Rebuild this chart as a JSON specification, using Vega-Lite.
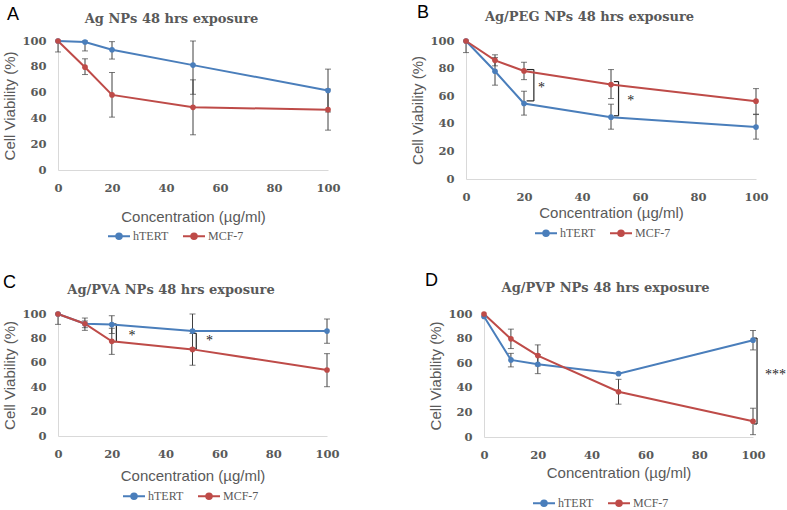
{
  "$schema": "https://vega.github.io/schema/vega-lite/v6.json",
  "background": "white",
  "padding": {"left": 2, "top": 4, "right": 2, "bottom": 0},
  "bounds": "flush",
  "align": "none",
  "spacing": 273,
  "datasets": {
    "pts": [
      {"panel": "A", "series": "hTERT", "conc": 0, "v": 100, "lo": 91.5, "hi": 100},
      {"panel": "A", "series": "hTERT", "conc": 10, "v": 99.2, "lo": 92.3, "hi": 100},
      {"panel": "A", "series": "hTERT", "conc": 20, "v": 93.2, "lo": 86, "hi": 99.5},
      {"panel": "A", "series": "hTERT", "conc": 50, "v": 81.3, "lo": 58.7, "hi": 100},
      {"panel": "A", "series": "hTERT", "conc": 100, "v": 61.6, "lo": 45, "hi": 78.2},
      {"panel": "A", "series": "MCF-7", "conc": 0, "v": 100, "lo": 100, "hi": 100},
      {"panel": "A", "series": "MCF-7", "conc": 10, "v": 79.7, "lo": 74, "hi": 86.2},
      {"panel": "A", "series": "MCF-7", "conc": 20, "v": 58.2, "lo": 41, "hi": 75.6},
      {"panel": "A", "series": "MCF-7", "conc": 50, "v": 48.6, "lo": 27.3, "hi": 69.9},
      {"panel": "A", "series": "MCF-7", "conc": 100, "v": 46.8, "lo": 30.9, "hi": 62.7},
      {"panel": "B", "series": "hTERT", "conc": 0, "v": 100, "lo": 91.6, "hi": 100},
      {"panel": "B", "series": "hTERT", "conc": 10, "v": 78.1, "lo": 68, "hi": 88},
      {"panel": "B", "series": "hTERT", "conc": 20, "v": 54.7, "lo": 46.3, "hi": 63.6},
      {"panel": "B", "series": "hTERT", "conc": 50, "v": 44.8, "lo": 36.1, "hi": 54.2},
      {"panel": "B", "series": "hTERT", "conc": 100, "v": 37.6, "lo": 28.9, "hi": 46.7},
      {"panel": "B", "series": "MCF-7", "conc": 0, "v": 100, "lo": 100, "hi": 100},
      {"panel": "B", "series": "MCF-7", "conc": 10, "v": 86, "lo": 82, "hi": 90},
      {"panel": "B", "series": "MCF-7", "conc": 20, "v": 78.3, "lo": 72, "hi": 84.6},
      {"panel": "B", "series": "MCF-7", "conc": 50, "v": 68.4, "lo": 58.3, "hi": 79.3},
      {"panel": "B", "series": "MCF-7", "conc": 100, "v": 56.4, "lo": 47, "hi": 65.5},
      {"panel": "C", "series": "hTERT", "conc": 0, "v": 100, "lo": 91.5, "hi": 100},
      {"panel": "C", "series": "hTERT", "conc": 10, "v": 92, "lo": 86.6, "hi": 96.7},
      {"panel": "C", "series": "hTERT", "conc": 20, "v": 91.3, "lo": 84, "hi": 98.6},
      {"panel": "C", "series": "hTERT", "conc": 50, "v": 86, "lo": 72, "hi": 100},
      {"panel": "C", "series": "hTERT", "conc": 100, "v": 86, "lo": 76, "hi": 95.9},
      {"panel": "C", "series": "MCF-7", "conc": 0, "v": 100, "lo": 100, "hi": 100},
      {"panel": "C", "series": "MCF-7", "conc": 10, "v": 92, "lo": 88.8, "hi": 94.3},
      {"panel": "C", "series": "MCF-7", "conc": 20, "v": 77.6, "lo": 66.9, "hi": 88.3},
      {"panel": "C", "series": "MCF-7", "conc": 50, "v": 71, "lo": 58, "hi": 84},
      {"panel": "C", "series": "MCF-7", "conc": 100, "v": 54.1, "lo": 40.4, "hi": 67.5},
      {"panel": "D", "series": "hTERT", "conc": 0, "v": 98, "lo": 98, "hi": 98},
      {"panel": "D", "series": "hTERT", "conc": 10, "v": 62.7, "lo": 57, "hi": 68},
      {"panel": "D", "series": "hTERT", "conc": 20, "v": 59.1, "lo": 51.5, "hi": 67},
      {"panel": "D", "series": "hTERT", "conc": 50, "v": 51.5, "lo": 51.5, "hi": 51.5},
      {"panel": "D", "series": "hTERT", "conc": 100, "v": 78.7, "lo": 70.8, "hi": 86.6},
      {"panel": "D", "series": "MCF-7", "conc": 0, "v": 100, "lo": 100, "hi": 100},
      {"panel": "D", "series": "MCF-7", "conc": 10, "v": 79.8, "lo": 71.9, "hi": 87.7},
      {"panel": "D", "series": "MCF-7", "conc": 20, "v": 66.2, "lo": 57.8, "hi": 74.9},
      {"panel": "D", "series": "MCF-7", "conc": 50, "v": 36.8, "lo": 26.7, "hi": 46.9},
      {"panel": "D", "series": "MCF-7", "conc": 100, "v": 12.8, "lo": 1.9, "hi": 23.4}
    ],
    "brk": [
      {"panel": "B", "x": 23.4, "x2": 23.4, "y": 79.3, "y2": 56.6},
      {"panel": "B", "x": 20.9, "x2": 23.4, "y": 79.3, "y2": 79.3},
      {"panel": "B", "x": 20.9, "x2": 23.4, "y": 56.6, "y2": 56.6},
      {"panel": "B", "x": 52.6, "x2": 52.6, "y": 70.6, "y2": 45.8},
      {"panel": "B", "x": 51, "x2": 52.6, "y": 70.6, "y2": 70.6},
      {"panel": "B", "x": 51, "x2": 52.6, "y": 45.8, "y2": 45.8},
      {"panel": "C", "x": 21.7, "x2": 21.7, "y": 91.8, "y2": 77.3},
      {"panel": "C", "x": 20.2, "x2": 21.7, "y": 91.8, "y2": 91.8},
      {"panel": "C", "x": 20.2, "x2": 21.7, "y": 77.3, "y2": 77.3},
      {"panel": "C", "x": 51.4, "x2": 51.4, "y": 84.2, "y2": 71.3},
      {"panel": "C", "x": 50.1, "x2": 51.4, "y": 84.2, "y2": 84.2},
      {"panel": "C", "x": 50.1, "x2": 51.4, "y": 71.3, "y2": 71.3},
      {"panel": "D", "x": 101.5, "x2": 101.5, "y": 80.4, "y2": 10.6},
      {"panel": "D", "x": 100.3, "x2": 101.5, "y": 80.4, "y2": 80.4},
      {"panel": "D", "x": 100.3, "x2": 101.5, "y": 10.6, "y2": 10.6}
    ],
    "notes": [
      {"panel": "A", "x": -18.9, "y": 116, "label": "A", "kind": "letter"},
      {"panel": "B", "x": -16.9, "y": 116.4, "label": "B", "kind": "letter"},
      {"panel": "C", "x": -20.4, "y": 121, "label": "C", "kind": "letter"},
      {"panel": "D", "x": -21.9, "y": 123, "label": "D", "kind": "letter"},
      {"panel": "B", "x": 26, "y": 66, "label": "*", "kind": "star"},
      {"panel": "B", "x": 56.8, "y": 56.6, "label": "*", "kind": "star"},
      {"panel": "C", "x": 27.5, "y": 82, "label": "*", "kind": "star"},
      {"panel": "C", "x": 56.3, "y": 78.1, "label": "*", "kind": "star"},
      {"panel": "D", "x": 104.5, "y": 50.4, "label": "***", "kind": "star"}
    ]
  },
  "vconcat": [
    {
      "bounds": "flush",
      "align": "none",
      "spacing": 138,
      "resolve": {"legend": {"color": "independent"}},
      "hconcat": [
        {
          "width": 270, "height": 129,
          "title": {"text": "Ag NPs 48 hrs exposure", "dy": 29.5},
          "layer": [
            {"data": {"name": "pts"}, "transform": [{"filter": "datum.panel == 'A' && datum.hi > datum.lo"}], "mark": {"type": "rule", "color": "#404040", "strokeWidth": 1},
             "encoding": {"x": {"field": "conc", "type": "quantitative", "scale": {"domain": [0, 100], "nice": false}, "axis": {"values": [0, 20, 40, 60, 80, 100], "tickCount": 12, "title": "Concentration (µg/ml)", "titlePadding": 16}}, "y": {"field": "lo", "type": "quantitative", "scale": {"domain": [0, 100], "nice": false}, "axis": {"values": [0, 20, 40, 60, 80, 100], "tickCount": 12, "title": "Cell Viability (%)"}}, "y2": {"field": "hi"}}},
            {"data": {"name": "pts"}, "transform": [{"filter": "datum.panel == 'A' && datum.hi > datum.lo"}], "mark": {"type": "tick", "orient": "horizontal", "color": "#404040", "size": 6, "thickness": 1},
             "encoding": {"x": {"field": "conc", "type": "quantitative"}, "y": {"field": "lo", "type": "quantitative"}}},
            {"data": {"name": "pts"}, "transform": [{"filter": "datum.panel == 'A' && datum.hi > datum.lo"}], "mark": {"type": "tick", "orient": "horizontal", "color": "#404040", "size": 6, "thickness": 1},
             "encoding": {"x": {"field": "conc", "type": "quantitative"}, "y": {"field": "hi", "type": "quantitative"}}},
            {"data": {"name": "pts"}, "transform": [{"filter": "datum.panel == 'A'"}], "mark": {"type": "line", "strokeWidth": 2, "point": {"filled": true, "size": 32}},
             "encoding": {"x": {"field": "conc", "type": "quantitative"}, "y": {"field": "v", "type": "quantitative"}, "color": {"field": "series", "type": "nominal", "scale": {"domain": ["hTERT", "MCF-7"], "range": ["#4a7ebb", "#be4b48"]}, "legend": {"legendX": 49, "legendY": 183}}}},
            {"data": {"name": "notes"}, "transform": [{"filter": "datum.panel == 'A'"}], "mark": {"type": "text", "font": "Liberation Sans", "fontSize": 18, "align": "left", "baseline": "alphabetic", "color": "black"},
             "encoding": {"x": {"field": "x", "type": "quantitative"}, "y": {"field": "y", "type": "quantitative"}, "text": {"field": "label"}}}
          ]
        },
        {
          "width": 290, "height": 138,
          "title": {"text": "Ag/PEG NPs 48 hrs exposure", "dy": 29.5},
          "layer": [
            {"data": {"name": "pts"}, "transform": [{"filter": "datum.panel == 'B' && datum.hi > datum.lo"}], "mark": {"type": "rule", "color": "#404040", "strokeWidth": 1},
             "encoding": {"x": {"field": "conc", "type": "quantitative", "scale": {"domain": [0, 100], "nice": false}, "axis": {"values": [0, 20, 40, 60, 80, 100], "tickCount": 12, "title": "Concentration (µg/ml)", "titlePadding": 3}}, "y": {"field": "lo", "type": "quantitative", "scale": {"domain": [0, 100], "nice": false}, "axis": {"values": [0, 20, 40, 60, 80, 100], "tickCount": 12, "title": "Cell Viability (%)"}}, "y2": {"field": "hi"}}},
            {"data": {"name": "pts"}, "transform": [{"filter": "datum.panel == 'B' && datum.hi > datum.lo"}], "mark": {"type": "tick", "orient": "horizontal", "color": "#404040", "size": 6, "thickness": 1},
             "encoding": {"x": {"field": "conc", "type": "quantitative"}, "y": {"field": "lo", "type": "quantitative"}}},
            {"data": {"name": "pts"}, "transform": [{"filter": "datum.panel == 'B' && datum.hi > datum.lo"}], "mark": {"type": "tick", "orient": "horizontal", "color": "#404040", "size": 6, "thickness": 1},
             "encoding": {"x": {"field": "conc", "type": "quantitative"}, "y": {"field": "hi", "type": "quantitative"}}},
            {"data": {"name": "brk"}, "transform": [{"filter": "datum.panel == 'B'"}], "mark": {"type": "rule", "color": "#262626", "strokeWidth": 1.2},
             "encoding": {"x": {"field": "x", "type": "quantitative"}, "x2": {"field": "x2"}, "y": {"field": "y", "type": "quantitative"}, "y2": {"field": "y2"}}},
            {"data": {"name": "pts"}, "transform": [{"filter": "datum.panel == 'B'"}], "mark": {"type": "line", "strokeWidth": 2, "point": {"filled": true, "size": 32}},
             "encoding": {"x": {"field": "conc", "type": "quantitative"}, "y": {"field": "v", "type": "quantitative"}, "color": {"field": "series", "type": "nominal", "scale": {"domain": ["hTERT", "MCF-7"], "range": ["#4a7ebb", "#be4b48"]}, "legend": {"legendX": 68, "legendY": 180}}}},
            {"data": {"name": "notes"}, "transform": [{"filter": "datum.panel == 'B' && datum.kind == 'letter'"}], "mark": {"type": "text", "font": "Liberation Sans", "fontSize": 18, "align": "left", "baseline": "alphabetic", "color": "black"},
             "encoding": {"x": {"field": "x", "type": "quantitative"}, "y": {"field": "y", "type": "quantitative"}, "text": {"field": "label"}}},
            {"data": {"name": "notes"}, "transform": [{"filter": "datum.panel == 'B' && datum.kind == 'star'"}], "mark": {"type": "text", "font": "Liberation Serif", "fontSize": 14, "align": "center", "baseline": "middle", "color": "#262626"},
             "encoding": {"x": {"field": "x", "type": "quantitative"}, "y": {"field": "y", "type": "quantitative"}, "text": {"field": "label"}}}
          ]
        }
      ]
    },
    {
      "bounds": "flush",
      "align": "none",
      "spacing": 157,
      "resolve": {"legend": {"color": "independent"}},
      "hconcat": [
        {
          "width": 269, "height": 122,
          "title": {"text": "Ag/PVA NPs 48 hrs exposure", "dy": 33},
          "layer": [
            {"data": {"name": "pts"}, "transform": [{"filter": "datum.panel == 'C' && datum.hi > datum.lo"}], "mark": {"type": "rule", "color": "#404040", "strokeWidth": 1},
             "encoding": {"x": {"field": "conc", "type": "quantitative", "scale": {"domain": [0, 100], "nice": false}, "axis": {"values": [0, 20, 40, 60, 80, 100], "tickCount": 12, "title": "Concentration (µg/ml)", "titlePadding": 9}}, "y": {"field": "lo", "type": "quantitative", "scale": {"domain": [0, 100], "nice": false}, "axis": {"values": [0, 20, 40, 60, 80, 100], "tickCount": 12, "title": "Cell Viability (%)"}}, "y2": {"field": "hi"}}},
            {"data": {"name": "pts"}, "transform": [{"filter": "datum.panel == 'C' && datum.hi > datum.lo"}], "mark": {"type": "tick", "orient": "horizontal", "color": "#404040", "size": 6, "thickness": 1},
             "encoding": {"x": {"field": "conc", "type": "quantitative"}, "y": {"field": "lo", "type": "quantitative"}}},
            {"data": {"name": "pts"}, "transform": [{"filter": "datum.panel == 'C' && datum.hi > datum.lo"}], "mark": {"type": "tick", "orient": "horizontal", "color": "#404040", "size": 6, "thickness": 1},
             "encoding": {"x": {"field": "conc", "type": "quantitative"}, "y": {"field": "hi", "type": "quantitative"}}},
            {"data": {"name": "brk"}, "transform": [{"filter": "datum.panel == 'C'"}], "mark": {"type": "rule", "color": "#262626", "strokeWidth": 1.2},
             "encoding": {"x": {"field": "x", "type": "quantitative"}, "x2": {"field": "x2"}, "y": {"field": "y", "type": "quantitative"}, "y2": {"field": "y2"}}},
            {"data": {"name": "pts"}, "transform": [{"filter": "datum.panel == 'C'"}], "mark": {"type": "line", "strokeWidth": 2, "point": {"filled": true, "size": 32}},
             "encoding": {"x": {"field": "conc", "type": "quantitative"}, "y": {"field": "v", "type": "quantitative"}, "color": {"field": "series", "type": "nominal", "scale": {"domain": ["hTERT", "MCF-7"], "range": ["#4a7ebb", "#be4b48"]}, "legend": {"legendX": 64, "legendY": 170}}}},
            {"data": {"name": "notes"}, "transform": [{"filter": "datum.panel == 'C' && datum.kind == 'letter'"}], "mark": {"type": "text", "font": "Liberation Sans", "fontSize": 18, "align": "left", "baseline": "alphabetic", "color": "black"},
             "encoding": {"x": {"field": "x", "type": "quantitative"}, "y": {"field": "y", "type": "quantitative"}, "text": {"field": "label"}}},
            {"data": {"name": "notes"}, "transform": [{"filter": "datum.panel == 'C' && datum.kind == 'star'"}], "mark": {"type": "text", "font": "Liberation Serif", "fontSize": 14, "align": "center", "baseline": "middle", "color": "#262626"},
             "encoding": {"x": {"field": "x", "type": "quantitative"}, "y": {"field": "y", "type": "quantitative"}, "text": {"field": "label"}}}
          ]
        },
        {
          "width": 269, "height": 123,
          "title": {"text": "Ag/PVP NPs 48 hrs exposure", "dy": 33},
          "layer": [
            {"data": {"name": "pts"}, "transform": [{"filter": "datum.panel == 'D' && datum.hi > datum.lo"}], "mark": {"type": "rule", "color": "#404040", "strokeWidth": 1},
             "encoding": {"x": {"field": "conc", "type": "quantitative", "scale": {"domain": [0, 100], "nice": false}, "axis": {"values": [0, 20, 40, 60, 80, 100], "tickCount": 12, "title": "Concentration (µg/ml)", "titlePadding": 5}}, "y": {"field": "lo", "type": "quantitative", "scale": {"domain": [0, 100], "nice": false}, "axis": {"values": [0, 20, 40, 60, 80, 100], "tickCount": 12, "title": "Cell Viability (%)"}}, "y2": {"field": "hi"}}},
            {"data": {"name": "pts"}, "transform": [{"filter": "datum.panel == 'D' && datum.hi > datum.lo"}], "mark": {"type": "tick", "orient": "horizontal", "color": "#404040", "size": 6, "thickness": 1},
             "encoding": {"x": {"field": "conc", "type": "quantitative"}, "y": {"field": "lo", "type": "quantitative"}}},
            {"data": {"name": "pts"}, "transform": [{"filter": "datum.panel == 'D' && datum.hi > datum.lo"}], "mark": {"type": "tick", "orient": "horizontal", "color": "#404040", "size": 6, "thickness": 1},
             "encoding": {"x": {"field": "conc", "type": "quantitative"}, "y": {"field": "hi", "type": "quantitative"}}},
            {"data": {"name": "brk"}, "transform": [{"filter": "datum.panel == 'D'"}], "mark": {"type": "rule", "color": "#262626", "strokeWidth": 1.2},
             "encoding": {"x": {"field": "x", "type": "quantitative"}, "x2": {"field": "x2"}, "y": {"field": "y", "type": "quantitative"}, "y2": {"field": "y2"}}},
            {"data": {"name": "pts"}, "transform": [{"filter": "datum.panel == 'D'"}], "mark": {"type": "line", "strokeWidth": 2, "point": {"filled": true, "size": 32}},
             "encoding": {"x": {"field": "conc", "type": "quantitative"}, "y": {"field": "v", "type": "quantitative"}, "color": {"field": "series", "type": "nominal", "scale": {"domain": ["hTERT", "MCF-7"], "range": ["#4a7ebb", "#be4b48"]}, "legend": {"legendX": 48, "legendY": 177}}}},
            {"data": {"name": "notes"}, "transform": [{"filter": "datum.panel == 'D' && datum.kind == 'letter'"}], "mark": {"type": "text", "font": "Liberation Sans", "fontSize": 18, "align": "left", "baseline": "alphabetic", "color": "black"},
             "encoding": {"x": {"field": "x", "type": "quantitative"}, "y": {"field": "y", "type": "quantitative"}, "text": {"field": "label"}}},
            {"data": {"name": "notes"}, "transform": [{"filter": "datum.panel == 'D' && datum.kind == 'star'"}], "mark": {"type": "text", "font": "Liberation Serif", "fontSize": 14, "align": "left", "baseline": "middle", "color": "#262626"},
             "encoding": {"x": {"field": "x", "type": "quantitative"}, "y": {"field": "y", "type": "quantitative"}, "text": {"field": "label"}}}
          ]
        }
      ]
    }
  ],
  "config": {
    "view": {"stroke": null},
    "axis": {"grid": false, "ticks": false, "domainColor": "#d9d9d9", "domainWidth": 1, "labelOverlap": false, "labelFont": "DejaVu Serif", "labelFontWeight": "bold", "labelFontSize": 11.5, "labelColor": "#595959", "titleFont": "Liberation Sans", "titleFontSize": 15, "titleFontWeight": "normal", "titleColor": "#595959"},
    "axisY": {"labelPadding": 12, "titlePadding": 4},
    "axisX": {"labelPadding": 12, "labelFlush": false},
    "title": {"font": "DejaVu Serif", "fontSize": 13, "fontWeight": "bold", "color": "#595959", "anchor": "middle", "frame": "bounds", "offset": 10},
    "legend": {"orient": "none", "direction": "horizontal", "title": null, "padding": 0, "labelFont": "Liberation Serif", "labelFontSize": 12, "labelColor": "#595959", "labelOffset": 2, "columnPadding": 10, "symbolType": "M-1,0L1,0M-0.25,0A0.25,0.25,0,1,1,0.25,0A0.25,0.25,0,1,1,-0.25,0", "symbolSize": 484, "symbolStrokeWidth": 2}
  }
}
